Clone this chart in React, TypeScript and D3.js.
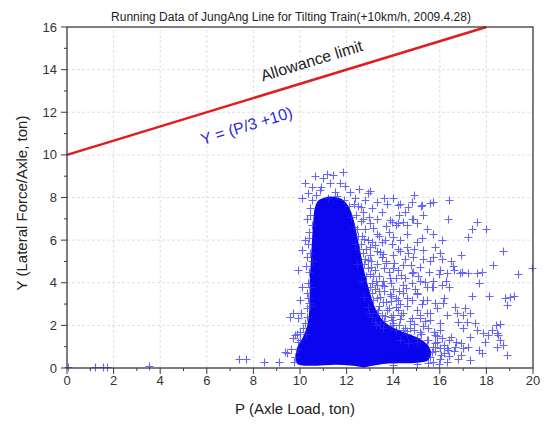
import React from 'react'
import * as d3 from 'd3'

// tick values
const xTicks = [0, 2, 4, 6, 8, 10, 12, 14, 16, 18, 20]
const yTicks = [0, 2, 4, 6, 8, 10, 12, 14, 16]

// allowance limit  Y = P/3 + 10
const limitLine: [number, number][] = [[0, 10], [18, 16]]

// outline of the saturated (solid) part of the scatter cloud, [P, Y]
const denseCore: [number, number][] = [
  [9.95, 0.25], [9.95, 0.9], [10.2, 1.4], [10.4, 2.0], [10.5, 3.0], [10.5, 4.0],
  [10.55, 5.0], [10.6, 6.0], [10.65, 6.8], [10.7, 7.4], [10.85, 7.8], [11.3, 7.95],
  [11.75, 7.85], [12.05, 7.45], [12.25, 6.8], [12.4, 6.0], [12.55, 5.2], [12.7, 4.4],
  [12.9, 3.6], [13.1, 2.9], [13.4, 2.3], [13.8, 1.9], [14.4, 1.6], [15.0, 1.35],
  [15.4, 1.05], [15.55, 0.7], [15.4, 0.4], [14.8, 0.32], [13.8, 0.3], [13.1, 0.2],
  [12.7, 0.12], [12.3, 0.2], [11.5, 0.25], [10.6, 0.2],
]

const isolated: [number, number][] = [
  [0.05, 0.05], [1.2, 0.05], [1.55, 0.06], [1.7, 0.05], [3.5, 0.1], [7.4, 0.4],
  [7.7, 0.42], [8.45, 0.3], [9.1, 0.3],
]

const topFringe: [number, number][] = [
  [10.2, 8.7], [10.1, 8.0], [10.65, 9.0], [11.15, 9.1], [11.4, 9.05], [11.85, 9.2],
  [11.0, 8.9], [11.7, 8.7], [12.15, 8.25], [10.85, 8.35], [11.5, 8.25], [12.9, 8.2],
  [12.8, 7.9], [12.6, 7.55], [10.5, 7.9], [10.7, 8.1], [11.2, 8.0], [11.9, 7.9],
  [12.3, 7.7], [10.45, 7.5], [10.9, 8.5], [11.6, 8.05], [12.1, 7.6], [10.5, 8.5],
  [10.35, 8.2], [11.3, 8.7], [11.95, 8.55], [12.35, 8.0], [12.55, 8.4], [13.0, 8.3],
]

const leftFringe: [number, number][] = [
  [10.3, 7.0], [10.4, 6.4], [10.2, 6.0], [10.35, 5.8], [10.1, 5.55], [10.3, 5.2],
  [9.9, 4.6], [10.25, 4.8], [10.35, 4.0], [10.1, 3.8], [10.3, 3.5], [10.4, 3.05],
  [10.0, 3.2], [10.05, 2.6], [10.3, 2.8], [9.9, 2.35], [10.2, 2.1], [9.55, 2.4],
  [9.8, 1.55], [9.7, 1.4], [9.9, 1.2], [10.0, 1.7], [9.35, 0.75], [9.6, 0.9],
  [9.8, 0.5], [9.45, 0.7], [9.7, 2.6], [9.85, 1.6], [10.45, 7.2], [10.5, 6.7],
  [10.4, 6.1], [10.45, 5.4], [10.4, 4.5], [10.45, 3.8], [10.35, 3.3], [10.3, 2.4],
  [10.15, 1.9], [10.0, 1.3], [9.9, 0.9], [9.75, 0.3], [10.5, 5.0], [10.45, 2.9],
  [10.25, 1.6],
]

const nearHalo: [number, number][] = [
  [12.4, 7.2], [12.6, 6.9], [12.3, 6.6], [12.8, 6.5], [12.5, 6.2], [12.9, 6.0],
  [12.6, 5.8], [13.1, 5.9], [12.7, 5.4], [13.0, 5.3], [12.8, 5.1], [13.3, 5.5],
  [13.5, 5.2], [12.9, 4.7], [13.2, 4.6], [13.6, 4.7], [13.0, 4.4], [13.4, 4.3],
  [13.8, 4.5], [13.1, 4.0], [13.5, 3.9], [13.9, 4.0], [13.2, 3.7], [13.6, 3.6],
  [14.0, 3.7], [13.3, 3.3], [13.7, 3.1], [14.1, 3.3], [14.3, 3.0], [13.4, 2.9],
  [13.8, 2.8], [14.2, 2.7], [14.6, 2.9], [13.5, 2.5], [13.9, 2.4], [14.3, 2.3],
  [14.7, 2.2], [13.6, 2.2], [14.0, 2.1], [14.5, 1.9], [14.9, 1.8], [15.2, 1.6],
  [14.1, 1.8], [14.6, 1.6], [15.0, 1.4], [15.5, 1.3], [15.8, 1.15], [13.9, 3.4],
  [14.4, 3.5], [14.8, 3.2], [14.5, 4.2], [14.2, 4.6], [13.7, 5.0], [14.0, 5.3],
  [13.4, 6.2], [13.8, 6.4], [12.7, 7.3], [13.0, 6.8], [13.3, 7.0],
  [12.5, 7.6], [12.7, 7.0], [12.45, 6.5], [12.65, 6.2], [12.55, 5.6], [12.85, 5.6],
  [12.75, 4.9], [13.05, 5.0], [12.85, 4.3], [13.25, 4.1], [13.0, 3.8], [13.4, 3.6],
  [13.15, 3.2], [13.55, 3.1], [13.35, 2.7], [13.65, 2.45], [13.95, 2.25], [14.25, 2.0],
  [14.6, 1.75], [13.1, 2.4], [13.45, 2.05], [13.85, 1.95], [14.35, 2.5], [14.1, 2.85],
  [13.9, 3.15], [13.6, 3.85], [13.85, 4.2], [14.25, 3.6], [14.55, 3.75], [14.35, 4.35],
  [14.05, 4.95], [13.55, 5.35], [13.2, 5.75], [13.5, 5.9], [13.15, 6.55], [12.95, 7.1],
  [13.7, 6.65], [13.95, 5.8], [12.45, 4.9], [12.6, 4.1], [12.75, 3.35], [12.95, 2.6],
  [13.25, 2.0], [12.35, 5.8], [12.2, 7.1], [12.75, 6.05], [13.05, 4.75], [13.3, 3.9],
]

const midHalo: [number, number][] = [
  [14.2, 7.65], [14.65, 7.55], [15.25, 7.65], [15.6, 7.75], [12.6, 7.55], [13.1, 7.5],
  [13.5, 7.3], [13.85, 6.95], [14.1, 6.7], [14.4, 6.85], [14.8, 7.0], [15.0, 6.8],
  [13.3, 6.3], [13.65, 6.0], [14.0, 6.15], [14.6, 6.3], [13.0, 5.7], [13.45, 5.45],
  [14.2, 5.6], [14.65, 5.4], [15.3, 5.55], [15.7, 5.2], [12.9, 5.05], [13.3, 4.9],
  [13.7, 4.95], [14.0, 4.7], [14.4, 4.85], [14.85, 4.5], [15.15, 4.75], [13.15, 4.3],
  [13.55, 4.1], [14.1, 4.2], [14.4, 3.9], [14.8, 4.0], [15.35, 4.05], [15.7, 3.8],
  [13.1, 3.5], [13.45, 3.35], [13.85, 3.45], [14.2, 3.2], [14.6, 3.3], [15.0, 3.45],
  [15.45, 3.2], [12.9, 2.85], [13.3, 2.6], [13.75, 2.7], [14.0, 2.5], [14.4, 2.6],
  [14.8, 2.35], [15.15, 2.5], [15.6, 2.6], [13.2, 2.15], [13.55, 1.9], [14.0, 2.0],
  [14.4, 1.8], [14.7, 1.9], [15.15, 1.7], [15.5, 1.9], [14.3, 1.3], [14.65, 1.15],
  [15.0, 1.2], [15.45, 1.3], [15.8, 1.0], [14.3, 6.0], [14.6, 5.7], [14.9, 5.6],
  [14.75, 4.85], [15.05, 4.3], [14.95, 3.7], [15.25, 3.0], [15.0, 2.7], [15.35, 2.2],
  [14.9, 2.05], [15.3, 1.95], [15.75, 1.7], [16.0, 2.1], [15.9, 2.8], [16.3, 2.5],
  [16.2, 3.3], [15.95, 4.4], [16.25, 4.1], [15.55, 4.5], [15.6, 5.0], [16.0, 5.4],
  [15.25, 6.1], [15.7, 6.3], [14.6, 6.7], [14.25, 7.2], [13.75, 7.7], [13.3, 7.8],
]

const farScatter: [number, number][] = [
  [14.9, 8.1], [13.6, 8.0], [14.0, 8.0], [14.3, 7.7], [14.8, 7.8], [15.2, 7.6],
  [15.7, 7.8], [16.4, 7.9], [14.5, 7.3], [14.85, 7.0], [15.3, 7.2], [13.95, 6.85],
  [14.2, 6.8], [16.35, 7.0], [17.6, 6.85], [15.45, 6.5], [17.4, 6.5], [18.0, 6.5],
  [17.2, 6.15], [15.0, 5.9], [16.1, 6.0], [15.8, 5.7], [18.7, 5.5], [16.9, 5.3],
  [16.1, 5.1], [16.5, 5.0], [18.3, 4.85], [19.95, 4.7], [16.95, 4.5], [17.2, 4.45],
  [17.6, 4.45], [17.7, 4.0], [19.35, 4.4], [16.0, 4.6], [16.3, 4.45], [16.6, 4.6],
  [15.7, 4.1], [16.1, 3.9], [16.4, 3.8], [17.4, 3.4], [18.1, 3.4], [18.8, 3.3],
  [19.0, 3.35], [19.2, 3.4], [18.9, 2.95], [16.65, 2.85], [17.1, 2.8], [17.0, 2.5],
  [17.3, 2.6], [17.5, 2.1], [17.0, 1.9], [18.4, 2.0], [18.6, 2.05], [18.25, 1.8],
  [18.45, 1.65], [17.85, 1.65], [17.95, 1.2], [18.05, 1.55], [18.7, 1.08], [18.9, 0.6],
  [16.9, 1.17], [17.2, 1.0], [17.7, 0.85], [17.8, 0.7], [17.3, 0.37], [16.4, 1.3],
  [16.65, 1.0], [16.3, 0.95], [16.0, 1.8], [15.8, 1.55], [15.6, 2.25], [15.15, 2.35],
  [15.45, 2.6], [15.3, 3.2], [15.8, 3.05], [15.0, 3.5], [15.15, 4.1], [14.8, 4.45],
  [15.45, 3.8], [14.5, 5.1], [14.85, 5.2], [14.3, 5.5], [15.3, 5.1], [16.15, 3.05],
  [16.75, 2.6], [16.8, 2.15], [17.15, 2.15], [17.6, 1.8], [17.3, 1.45], [18.5, 1.55],
  [18.6, 1.3], [18.45, 1.0], [16.55, 4.8], [16.85, 4.45], [17.8, 4.5], [15.65, 3.8],
]

const bottomBand: [number, number][] = [
  [15.6, 0.5], [15.8, 0.8], [16.0, 0.4], [16.2, 0.7], [15.9, 1.2], [16.1, 1.4],
  [16.4, 0.55], [15.7, 0.3], [16.6, 0.8], [16.9, 0.6], [15.5, 0.25], [16.2, 1.1],
  [16.5, 1.45], [16.0, 0.95], [15.9, 1.5], [16.3, 0.3], [15.7, 1.0], [15.65, 0.75],
  [16.05, 0.6], [16.35, 0.85], [16.7, 1.2], [17.0, 0.95], [16.8, 0.4], [15.95, 0.2],
  [14.0, 0.15], [15.0, 0.2],
]

const W = 546
const H = 426
const m = { left: 67, right: 13, top: 27, bottom: 58 }

const App = () => {
  const x = d3.scaleLinear().domain([0, 20]).range([m.left, W - m.right])
  const y = d3.scaleLinear().domain([0, 16]).range([H - m.bottom, m.top])

  const allPoints = [
    ...isolated, ...topFringe, ...leftFringe, ...nearHalo,
    ...midHalo, ...farScatter, ...bottomBand,
  ]
  const px = (v: number) => Math.round(v) + 0.5
  const arm = 4
  const plusPath = allPoints
    .map(([p, v]) => {
      const cx = px(x(p)), cy = px(y(v))
      return `M${cx - arm},${cy}h${2 * arm}M${cx},${cy - arm}v${2 * arm}`
    })
    .join('')

  const coreArea = d3.line<[number, number]>()
    .x(d => x(d[0]))
    .y(d => y(d[1]))
    .curve(d3.curveCardinalClosed.tension(0.3))(denseCore) || ''

  const limitPath = d3.line<[number, number]>()
    .x(d => x(d[0]))
    .y(d => y(d[1]))(limitLine) || ''

  const x0 = x(0), x1 = x(20), y0 = y(0), y1 = y(16)
  const xMinor = d3.range(1, 20, 2)
  const yMinor = d3.range(1, 16, 2)
  const font = 'Arial, "Liberation Sans", sans-serif'
  const axisCol = '#3a3a3a'

  return (
    <svg width={W} height={H} style={{ position: 'absolute', left: 0, top: 0 }} fontFamily={font}>
      <rect width={W} height={H} fill="white" />

      {/* grid */}
      <g stroke="#d4d6ea" strokeWidth={0.8} strokeDasharray="3,2">
        {xTicks.slice(1, -1).map(t => (
          <line key={'gx' + t} x1={x(t)} x2={x(t)} y1={y0} y2={y1} />
        ))}
        {yTicks.slice(1, -1).map(t => (
          <line key={'gy' + t} x1={x0} x2={x1} y1={y(t)} y2={y(t)} />
        ))}
      </g>

      {/* scatter */}
      <path d={coreArea} fill="#0a05ee" stroke="#0a05ee" strokeWidth={4} strokeLinejoin="round" />
      <path d={plusPath} stroke="#2a2af4" strokeWidth={1.1} opacity={0.72} fill="none" />

      {/* allowance limit */}
      <path d={limitPath} stroke="#e01e1e" strokeWidth={2.5} fill="none" />
      <text x={312} y={62} fontSize={16} fill="#222" textAnchor="middle"
        dominantBaseline="middle" transform="rotate(-17 312 62)">Allowance limit</text>
      <text x={247} y={127} fontSize={16} fill="#2b2bd2" textAnchor="middle"
        dominantBaseline="middle" transform="rotate(-17 247 127)">Y = (P/3 +10)</text>

      {/* frame */}
      <rect x={x0} y={y1} width={x1 - x0} height={y0 - y1} fill="none" stroke={axisCol} strokeWidth={1.3} />

      {/* axes ticks */}
      <g stroke={axisCol} strokeWidth={1}>
        {xTicks.map(t => <line key={'xt' + t} x1={x(t)} x2={x(t)} y1={y0} y2={y0 + 6} />)}
        {xMinor.map(t => <line key={'xm' + t} x1={x(t)} x2={x(t)} y1={y0} y2={y0 + 3} />)}
        {yTicks.map(t => <line key={'yt' + t} x1={x0 - 6} x2={x0} y1={y(t)} y2={y(t)} />)}
        {yMinor.map(t => <line key={'ym' + t} x1={x0 - 3} x2={x0} y1={y(t)} y2={y(t)} />)}
      </g>
      <g fontSize={13} fill="#333">
        {xTicks.map(t => (
          <text key={'xl' + t} x={x(t)} y={y0 + 17} textAnchor="middle">{t}</text>
        ))}
        {yTicks.map(t => (
          <text key={'yl' + t} x={x0 - 10} y={y(t) + 4.5} textAnchor="end">{t}</text>
        ))}
      </g>

      {/* titles */}
      <text x={291} y={21} fontSize={12} fill="#222" textAnchor="middle">
        Running Data of JungAng Line for Tilting Train(+10km/h, 2009.4.28)
      </text>
      <text x={295} y={414} fontSize={15} fill="#222" textAnchor="middle">P (Axle Load, ton)</text>
      <text x={0} y={0} fontSize={15} fill="#222" textAnchor="middle"
        transform="translate(27,203) rotate(-90)">Y (Lateral Force/Axle, ton)</text>
    </svg>
  )
}

export default App
